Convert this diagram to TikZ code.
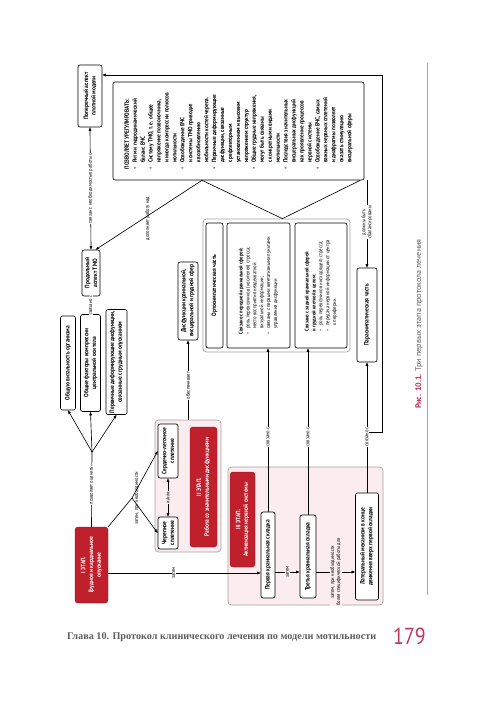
\documentclass[tikz,border=0pt]{standalone}
\usepackage{fontspec}
\setmainfont{PT Sans}
\newfontfamily\narrowfont{PT Sans}[FakeStretch=0.86]
\newfontfamily\capfont{PT Sans}
\newfontfamily\footfont{Liberation Serif}
\usetikzlibrary{arrows.meta,calc}

\definecolor{stagered}{HTML}{C01F2C}
\definecolor{paleroze}{HTML}{FBEDEF}
\definecolor{bulletred}{HTML}{D23A55}
\definecolor{groupgray}{HTML}{A3A3A3}
\definecolor{captred}{HTML}{C0365A}
\definecolor{footgray}{HTML}{5E5E5E}

\newcommand{\figfont}{\narrowfont\bfseries\fontsize{9}{11}\selectfont}
\newcommand{\bigfont}{\narrowfont\bfseries\fontsize{8.7}{11.3}\selectfont}
\newcommand{\smallfont}{\narrowfont\fontsize{7.7}{9.8}\selectfont}
\newcommand{\lblfont}{\narrowfont\fontsize{7.5}{8.5}\selectfont}
\newcommand{\bul}{\makebox[1em][l]{\textcolor{bulletred}{\textbullet}}}
\newcommand{\ind}{\hspace*{1em}}

\begin{document}
\begin{tikzpicture}[
	x=0.05cm, y=-0.05cm,
	rot/.style={rotate=90},
	boxsize/.style 2 args={minimum width=#1*0.05cm, minimum height=#2*0.05cm},
	box/.style={rot, draw, line width=0.9pt, rounded corners=3pt, fill=white, align=center, inner sep=2pt, font=\figfont},
	stagebox/.style={rot, draw=stagered!75!black, fill=stagered, text=white, rounded corners=4pt, align=center, inner sep=2pt, font=\figfont},
	groupbox/.style={rot, draw=groupgray, line width=1pt, rounded corners=5pt, fill=paleroze},
	lbl/.style={rot, fill=white, inner sep=1pt, align=center, font=\lblfont},
	link/.style={line width=0.9pt},
	arr/.style={link, -{Triangle[length=5pt,width=3.8pt]}},
	dbl/.style={link, {Triangle[length=5pt,width=3.8pt]}-{Triangle[length=5pt,width=3.8pt]}}
]
\fill[white] (0,0) rectangle (500,707);
\useasboundingbox (0,0) rectangle (500,707);

% groups
\node at (188,486) (group2) [groupbox, boxsize={132}{66}] {};
\node at (305.5,536) (group3) [groupbox, boxsize={138}{155}] {};
\node at (276.5,285.5) (symgroup) [groupbox, fill=white, boxsize={133}{147}] {};

% stage I
\node at (91.5,565) (stage1) [stagebox, boxsize={76}{33}] {I ЭТАП.\\Грудное и кардиальное\\опускание};
\coordinate (split1) at (92,452);
\coordinate (split2) at (132,498);

\node at (68,363) (vital) [box, boxsize={94}{15}] {Общую витальность организма};
\node at (90.5,363) (axis) [box, boxsize={97}{20}] {Общие факторы компрессии\\центральной оси тела};
\node at (116.5,362) (deform) [box, boxsize={105}{21}] {Первичные деформирующие дисфункции,\\связанные с грудным опусканием};
\node at (91,273) (long) [box, boxsize={46}{18}] {Продольный\\аспект ТМО};
\node at (90,96) (trans) [box, boxsize={62}{24}] {Поперечный аспект\\плотной модели};

% stage II
\node at (168,451) (heart) [box, boxsize={54}{20}] {Сердечно-легочное\\сплетение};
\node at (168,533) (skull) [box, boxsize={32}{20}] {Черепное\\сплетение};
\node at (203.5,487) (stage2) [stagebox, boxsize={120}{27}] {II ЭТАП.\\Работа со значительными дисфункциями};
\node at (188,301) (dysf) [box, boxsize={78}{20}] {Дисфункции краниальной,\\висцеральной и грудной сфер};

% vegetative system
\node at (238.5,131) (bigbox) [box, align=left, font=\bigfont, boxsize={98}{251}] {ПОЗВОЛЯЕТ УРЕГУЛИРОВАТЬ:\\
\bul Ритм и гидродинамический\\ \ind баланс ВЧС\\
\bul Систему ТМО, т.\,е. общее\\ \ind напряжение позвоночника,\\ \ind и иногда компрессии полюсов\\ \ind мотильности\\
\bul Освобождение ВЧС\\ \ind и системы ТМО приводит\\ \ind к возобновлению\\ \ind мобильности костей черепа.\\
\bul Первичные деформирующие\\ \ind дисфункции, связанные\\ \ind с рефлекторным\\ \ind установлением и высоким\\ \ind напряжением структур\\
\bul Общие грудные напряжения,\\ \ind могут быть связаны\\ \ind с конкретными видами\\ \ind мотильности\\
\bul Последствия значительных\\ \ind висцеральных дисфункций\\ \ind как проявление процессов\\ \ind нервной системы\\
\bul Освобождение ВЧС, самых\\ \ind важных нервных сплетений\\ \ind и диафрагмы позволяет\\ \ind оказать стимуляцию\\ \ind висцеральной сферы};
\node at (214.5,285.5) (ortho) [box, boxsize={125}{17}] {Ортосимпатическая часть};
\node at (258.5,285.5) (front) [box, align=left, font=\smallfont, boxsize={125}{63}] {\bfseries Связано с передней краниальной сферой:\\
\bul роль перевозчиков (носителей) стресса;\\ \ind место восприятия неадекватной\\ \ind визуальной информации;\\
\bul связаны с первыми вегетативными пунктами\\ \ind управления дисфункции};
\node at (321,285.5) (back) [box, align=left, font=\smallfont, boxsize={125}{52}] {\bfseries Связано с задней краниальной сферой\\ \bfseries и грудной клеткой в целом:\\
\bul роль перевозчиков нисходящего стресса;\\
\bul передача нервной информации от центра\\ \ind к периферии};
\node at (367,315) (para) [box, boxsize={94}{20}] {Парасимпатическая часть};

% stage III
\node at (242.5,519.5) (stage3) [stagebox, boxsize={95}{25}] {III ЭТАП.\\Активизация нервной системы};
\node at (268,555) (first) [box, boxsize={86}{14}] {Первая краниальная складка};
\node at (308,556.5) (third) [box, boxsize={83}{16}] {Третья краниальная складка};
\node at (367,546.5) (lateral) [box, boxsize={107}{23}] {Латеральный механизм в конце\\движения вверх первой складки};

% connectors
\draw[link] (stage1.east) -- node[lbl, pos=0.55] {позволяет оценить} (split1);
\foreach \p in {vital,axis,deform} \draw[arr] (split1) to (\p.west);
\draw[dbl] (axis.east) -- node[lbl] {связано с} (long.west);
\draw[dbl] (long.east) -- node[lbl] {связан с необходимостью работы с} (trans.west);

\draw[link] (stage1.south east) -- node[lbl, fill=none, pos=1, anchor=north, inner sep=3pt] {затем, при необходимости} (split2);
\foreach \p in {heart,skull} \draw[arr] (split2) to (\p.north);
\draw[dbl] (skull.east) -- node[lbl, fill=paleroze] {и/или} (heart.west);
\draw[arr] (group2.east) -- node[lbl, pos=0.43] {обеспечивает} (dysf.west);

\coordinate (dvl) at ($(bigbox.north west)!0.355!(bigbox.south west)$);
\coordinate (dvr) at ($(bigbox.north west)!0.984!(bigbox.south west)$);
\coordinate (apex) at ($(symgroup.north east)!0.54!(symgroup.south east)$);
\draw[link] (dvl) -- (apex) -- (dvr);
\draw[arr] (dvl) -- node[lbl, fill=none, pos=0.55, anchor=north, inner sep=2pt] {дополняет работу над} ($(long.east)!0.5!(long.south east)$);
\draw[arr] (bigbox.south west -| para.east) -- node[lbl, pos=0.48] {должны быть\\сбалансированы} (para.east);

\coordinate (s1r) at ($(stage1.south)+(0,8)$);
\draw[arr] (s1r) -- node[lbl, pos=0.43] {затем} (s1r -| first.north);
\coordinate (f1) at ($(first.south)+(0,17)$);
\draw[arr] (f1) -- node[lbl, fill=paleroze] {затем} (f1 -| third.north);
\coordinate (t1) at ($(third.south)+(0,15.5)$);
\draw[arr] (t1) -- node[lbl, fill=paleroze] {затем, при необходимости\\более специфической работы для} (t1 -| lateral.north);

\path (lateral.east) -- coordinate[pos=0.466] (loopj) (para.west);
\coordinate (loopc) at (382,75);
\draw[arr] (loopj) -| (loopc) -- (loopc -| trans.south);
\draw[arr] (first.east) -- node[lbl, pos=0.457] {связано с} (first.east |- front.west);
\draw[arr] (third.east) -- node[lbl, pos=0.467] {связано с} (third.east |- back.west);
\draw[arr] (lateral.east) -- node[lbl, pos=0.43] {связано с} (para.west);

% page
\draw[groupgray, line width=0.6pt] (427,63) -- (427,595);
\node at (419,409) (caption) [rot, anchor=west, inner sep=0pt, font=\capfont\fontsize{11.5}{13}\selectfont, text=footgray] {\textcolor{captred}{\bfseries Рис. 10.1.} Три первых этапа протокола лечения};
\node at (67,637) (footer) [anchor=west, inner sep=0pt, font=\footfont\bfseries\fontsize{14.5}{16}\selectfont, text=footgray] {Глава 10. Протокол клинического лечения по модели мотильности};
\node at (393,636) (pagenum) [anchor=west, inner sep=0pt, font=\narrowfont\fontsize{33}{36}\selectfont, text=captred] {179};
\end{tikzpicture}
\end{document}
